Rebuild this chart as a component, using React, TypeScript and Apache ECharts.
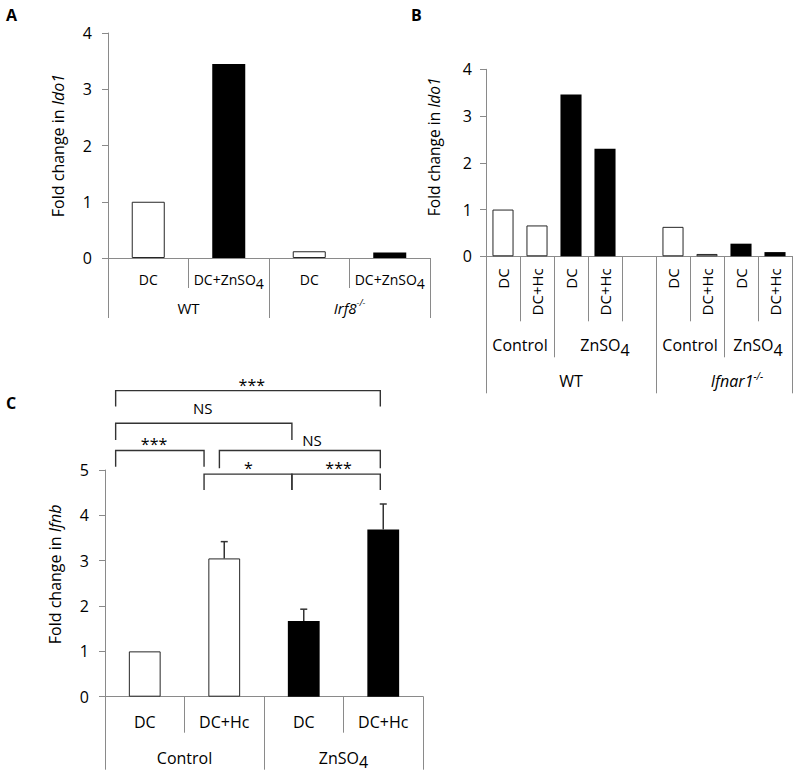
import React, { useEffect, useRef } from 'react';
import * as echarts from 'echarts';

const FONT = '"Open Sans", "Liberation Sans", sans-serif';
const AXIS_GRAY = '#8a8a8a';
const TEXT = '#000000';

type Group = { name: string; span: number };

// ---------- Panel A: Ido1 in WT and Irf8-/- DC ----------
const aCategories = ['DC', 'DC+ZnSO4', 'DC', 'DC+ZnSO4'];
const aControl: (number | null)[] = [1.0, null, 0.12, null];
const aZnSO4: (number | null)[] = [null, 3.45, null, 0.1];
const aGenotypes: Group[] = [
  { name: 'WT', span: 2 },
  { name: 'Irf8', span: 2 },
];
const aYMax = 4;

// ---------- Panel B: Ido1 in WT and Ifnar1-/- DC ----------
const bCategories = ['DC', 'DC+Hc', 'DC', 'DC+Hc', '', 'DC', 'DC+Hc', 'DC', 'DC+Hc'];
const bControl: (number | null)[] = [1.0, 0.66, null, null, null, 0.63, 0.05, null, null];
const bZnSO4: (number | null)[] = [null, null, 3.46, 2.3, null, null, null, 0.27, 0.09];
const bTreatments: Group[] = [
  { name: 'Control', span: 2 },
  { name: 'ZnSO4', span: 3 },
  { name: 'Control', span: 2 },
  { name: 'ZnSO4', span: 2 },
];
const bGenotypes: Group[] = [
  { name: 'WT', span: 5 },
  { name: 'Ifnar1', span: 4 },
];
const bYMax = 4;

// ---------- Panel C: Ifnb ----------
const cCategories = ['DC', 'DC+Hc', 'DC', 'DC+Hc'];
const cControl: (number | null)[] = [1.0, 3.05, null, null];
const cZnSO4: (number | null)[] = [null, null, 1.67, 3.69];
const cErrorTop: (number | null)[] = [null, 3.42, 1.93, 4.25];
const cTreatments: Group[] = [
  { name: 'Control', span: 2 },
  { name: 'ZnSO4', span: 2 },
];
const cYMax = 5;
// significance brackets: ends in category units, heights in axis units
const cBracketX1 = [-0.366, -0.366, -0.366, 0.939, 0.746, 1.851];
const cBracketX2 = [2.963, 1.851, 0.746, 2.963, 1.851, 2.963];
const cBracketY = [6.75, 6.03, 5.43, 5.43, 4.91, 4.91];
const cBracketDrop = [6.4, 5.66, 5.07, 5.04, 4.56, 4.56];
const cBracketLabelX = [1.347, 0.73, 0.117, 2.103, 1.304, 2.438];
const cBracketLabelY = [6.88, 6.37, 5.57, 5.66, 5.05, 5.05];
const cBracketLabels = ['***', 'NS', '***', 'NS', '*', '***'];

// ---------- helpers ----------
function groupBounds(groups: Group[]): number[] {
  const b = [0];
  groups.forEach((g) => b.push(b[b.length - 1] + g.span));
  return b;
}
function groupCenters(groups: Group[]): number[] {
  const b = groupBounds(groups);
  return groups.map((_, i) => (b[i] + b[i + 1]) / 2);
}
function markup(label: string): string {
  if (label === 'Irf8') return `{it|${label}}{sup|-/-}`;
  if (label === 'Ifnar1') return `{itp|${label}}{sup|-/-}`;
  const m = label.match(/^(.*SO)4$/);
  if (m) return `{t|${m[1]}}{sub|4}`;
  return `{t|${label}}`;
}
function rich(size: number) {
  const base = { fontSize: size, fontFamily: FONT, color: TEXT };
  return {
    t: { ...base },
    sub: { ...base, padding: [Math.round(size * 0.55), 0, 0, 0] },
    it: { ...base, fontStyle: 'italic' },
    itp: { ...base, fontStyle: 'italic', padding: [0, 0, 0, 26] },
    sup: {
      ...base,
      fontSize: Math.round(size * 0.62),
      fontStyle: 'italic',
      padding: [0, 0, Math.round(size * 0.7), 0],
    },
  };
}

function catAxis(gridIndex: number, data: string[], tickLen: number, margin: number, size: number, rotate = 0) {
  return {
    type: 'category',
    gridIndex,
    data,
    position: 'bottom',
    axisLine: { show: true, onZero: false, lineStyle: { color: AXIS_GRAY, width: 1 } },
    axisTick: { show: true, interval: 0, length: tickLen, lineStyle: { color: AXIS_GRAY, width: 1 } },
    axisLabel: {
      interval: 0,
      margin,
      rotate,
      ...(rotate ? {} : { verticalAlign: 'middle' }),
      fontSize: size,
      fontFamily: FONT,
      color: TEXT,
      formatter: (v: string) => markup(v),
      rich: rich(size),
    },
    splitLine: { show: false },
  };
}

function groupAxis(gridIndex: number, groups: Group[], tickLen: number, margin: number, size: number) {
  const bounds = groupBounds(groups);
  const centers = groupCenters(groups);
  return {
    type: 'value',
    gridIndex,
    position: 'bottom',
    min: 0,
    max: bounds[bounds.length - 1],
    axisLine: { show: false, onZero: false },
    axisTick: { show: true, length: tickLen, customValues: bounds, lineStyle: { color: AXIS_GRAY, width: 1 } },
    axisLabel: {
      show: true,
      customValues: centers,
      margin,
      verticalAlign: 'middle',
      fontSize: size,
      fontFamily: FONT,
      color: TEXT,
      formatter: (v: number) => {
        const i = centers.findIndex((c) => Math.abs(c - v) < 1e-6);
        return i >= 0 ? markup(groups[i].name) : '';
      },
      rich: rich(size),
    },
    splitLine: { show: false },
  };
}

function valueYAxis(gridIndex: number, max: number, gene: string, nameGap: number, shiftUp: number, labelSize: number, nameSize: number, margin: number) {
  return {
    type: 'value',
    gridIndex,
    min: 0,
    max,
    interval: 1,
    axisLine: { show: true, onZero: false, lineStyle: { color: AXIS_GRAY, width: 1 } },
    axisTick: { show: true, length: 6, lineStyle: { color: AXIS_GRAY, width: 1 } },
    axisLabel: { margin, fontSize: labelSize, fontFamily: FONT, color: TEXT },
    splitLine: { show: false },
    name: `{a|Fold change in }{i|${gene}}`,
    nameLocation: 'middle',
    nameGap,
    nameTextStyle: {
      padding: [0, 0, 0, shiftUp * 2],
      rich: {
        a: { fontSize: nameSize, fontFamily: FONT, color: TEXT },
        i: { fontSize: nameSize, fontFamily: FONT, color: TEXT, fontStyle: 'italic' },
      },
    },
  };
}

const whiteBar = { color: '#ffffff', borderColor: '#262626', borderWidth: 1 };
const blackBar = { color: '#000000' };

function buildOption() {
  const errorData = cErrorTop
    .map((e, i) => (e == null ? null : [i, (cControl[i] ?? cZnSO4[i]) as number, e]))
    .filter((d) => d != null);
  const bracketData = cBracketY.map((y, i) => [
    0,
    y,
    cBracketX1[i],
    cBracketX2[i],
    cBracketDrop[i],
    cBracketLabelX[i],
    cBracketLabelY[i],
    i,
  ]);

  return {
    animation: false,
    backgroundColor: '#ffffff',
    textStyle: { fontFamily: FONT },
    grid: [
      { left: 108, top: 33, width: 322, height: 225, containLabel: false, outerBoundsMode: 'none' },
      { left: 486, top: 69.3, width: 306, height: 187, containLabel: false, outerBoundsMode: 'none' },
      { left: 105, top: 470, width: 318, height: 226.7, containLabel: false, outerBoundsMode: 'none' },
    ],
    xAxis: [
      catAxis(0, aCategories, 30, 21, 14),
      groupAxis(0, aGenotypes, 60, 50, 15),
      catAxis(1, bCategories, 65, 12, 15, 90),
      groupAxis(1, bTreatments, 101, 89, 16),
      groupAxis(1, bGenotypes, 137, 125, 16),
      catAxis(2, cCategories, 36, 25, 16),
      groupAxis(2, cTreatments, 73, 61, 16),
    ],
    yAxis: [
      valueYAxis(0, aYMax, 'Ido1', 42, 0, 16, 16, 16),
      valueYAxis(1, bYMax, 'Ido1', 44, 16, 16, 15.5, 14),
      valueYAxis(2, cYMax, 'Ifnb', 42, 9, 16, 16, 16),
    ],
    series: [
      { type: 'bar', name: 'A control', xAxisIndex: 0, yAxisIndex: 0, data: aControl, barGap: '-100%', barCategoryGap: '59%', itemStyle: whiteBar },
      { type: 'bar', name: 'A ZnSO4', xAxisIndex: 0, yAxisIndex: 0, data: aZnSO4, barGap: '-100%', barCategoryGap: '59%', itemStyle: blackBar },
      { type: 'bar', name: 'B control', xAxisIndex: 2, yAxisIndex: 1, data: bControl, barGap: '-100%', barCategoryGap: '38%', itemStyle: whiteBar },
      { type: 'bar', name: 'B ZnSO4', xAxisIndex: 2, yAxisIndex: 1, data: bZnSO4, barGap: '-100%', barCategoryGap: '38%', itemStyle: blackBar },
      { type: 'bar', name: 'C control', xAxisIndex: 5, yAxisIndex: 2, data: cControl, barGap: '-100%', barCategoryGap: '60%', itemStyle: whiteBar },
      { type: 'bar', name: 'C ZnSO4', xAxisIndex: 5, yAxisIndex: 2, data: cZnSO4, barGap: '-100%', barCategoryGap: '60%', itemStyle: blackBar },
      {
        type: 'custom',
        name: 'C error',
        xAxisIndex: 5,
        yAxisIndex: 2,
        clip: false,
        z: 5,
        data: errorData,
        encode: { x: 0, y: 1 },
        renderItem: (_params: any, api: any) => {
          const i = api.value(0);
          const p0 = api.coord([i, api.value(1)]);
          const p1 = api.coord([i, api.value(2)]);
          const st = { stroke: '#333333', lineWidth: 1.5 };
          return {
            type: 'group',
            children: [
              { type: 'line', shape: { x1: p0[0], y1: p0[1], x2: p1[0], y2: p1[1] }, style: st },
              { type: 'line', shape: { x1: p1[0] - 3.5, y1: p1[1], x2: p1[0] + 3.5, y2: p1[1] }, style: st },
            ],
          };
        },
      },
      {
        type: 'custom',
        name: 'C brackets',
        xAxisIndex: 5,
        yAxisIndex: 2,
        clip: false,
        z: 5,
        data: bracketData,
        encode: { x: 0, y: 1 },
        renderItem: (_params: any, api: any) => {
          const origin = api.coord([0, 0]);
          const band = api.size([1, 0])[0];
          const px = (u: number) => origin[0] + u * band;
          const py = (v: number) => api.coord([0, v])[1];
          const x1 = px(api.value(2));
          const x2 = px(api.value(3));
          const y = py(api.value(1));
          const yd = py(api.value(4));
          const idx = api.value(7);
          const label = cBracketLabels[idx];
          const st = { stroke: '#333333', lineWidth: 1.4, fill: 'none' };
          return {
            type: 'group',
            children: [
              {
                type: 'polyline',
                shape: { points: [[x1, yd], [x1, y], [x2, y], [x2, yd]] },
                style: st,
              },
              {
                type: 'text',
                x: px(api.value(5)),
                y: py(api.value(6)),
                style: {
                  text: label,
                  fontSize: label === 'NS' ? 15 : 16,
                  fontFamily: FONT,
                  fill: TEXT,
                  align: 'center',
                  verticalAlign: 'middle',
                },
              },
            ],
          };
        },
      },
    ],
    graphic: [
      { type: 'text', x: 6, y: 7, style: { text: 'A', fontSize: 16, fontWeight: 'bold', fontFamily: FONT, fill: '#000' } },
      { type: 'text', x: 411, y: 7, style: { text: 'B', fontSize: 16, fontWeight: 'bold', fontFamily: FONT, fill: '#000' } },
      { type: 'text', x: 6, y: 395, style: { text: 'C', fontSize: 16, fontWeight: 'bold', fontFamily: FONT, fill: '#000' } },
    ],
  };
}

export default function App() {
  const ref = useRef<HTMLDivElement>(null);
  useEffect(() => {
    const el = ref.current;
    if (!el) return;
    const chart = echarts.init(el, null, { renderer: 'svg' });
    chart.setOption(buildOption() as any);
    return () => chart.dispose();
  }, []);
  return <div ref={ref} style={{ position: 'absolute', left: 0, top: 0, width: 800, height: 778 }} />;
}
